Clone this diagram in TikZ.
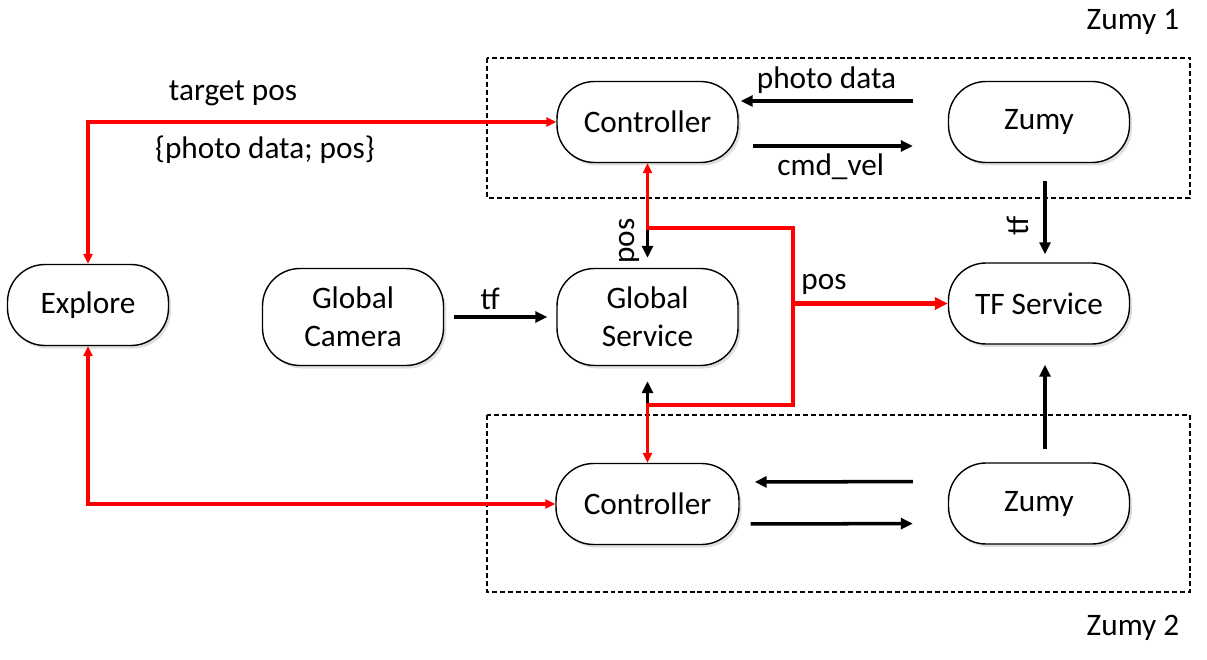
\documentclass[tikz,border=0pt]{standalone}
\usepackage{fontspec}
\setmainfont{Carlito}
\usetikzlibrary{positioning, arrows.meta, shadows}
\tikzstyle{block} = [rectangle, rounded corners=0.75cm, minimum width=3.62cm, minimum height=1.62cm, text centered, align=center, draw=black, line width=0.8pt, fill=white, drop shadow={shadow xshift=0.05cm, shadow yshift=-0.06cm, opacity=0.25}]
\tikzstyle{tall} = [minimum height=1.94cm]
\tikzstyle{zone} = [draw=black, line width=0.6pt, dash pattern=on 2.8pt off 1.7pt]
\tikzstyle{arrow} = [line width=2pt, -{Triangle[length=0.24cm, width=0.22cm]}]
\tikzstyle{redarrow} = [red, line width=2pt, {Triangle[length=0.2cm, width=0.18cm]}-{Triangle[length=0.2cm, width=0.18cm]}]
\tikzstyle{posarrow} = [red, line width=3pt, -{Triangle[length=0.26cm, width=0.24cm]}]

\begin{document}
\begin{tikzpicture}[on grid, font=\fontsize{17.8}{21.6}\selectfont]
    \useasboundingbox (0,0) rectangle (24.14,-13.2);

    % zumy groups
    \draw [zone] (9.74,-1.16) rectangle (23.8,-3.96);
    \draw [zone] (9.74,-8.3) rectangle (23.8,-11.84);
    \node (zumy1lbl) at (22.66,-0.44) {Zumy 1};
    \node (zumy2lbl) at (22.66,-12.56) {Zumy 2};

    \node (ctrl1) [block] at (12.95,-2.44) {Controller};
    \node (zumy1) [block, right=7.83cm of ctrl1] {Zumy};
    \node (gsvc) [block, tall, below=3.9cm of ctrl1] {Global\\Service};
    \node (cam) [block, tall, left=5.89cm of gsvc] {Global\\Camera};
    \node (tf) [block, below=3.63cm of zumy1] {TF Service};
    \node (explore) [block, minimum width=3.22cm] at (1.76,-6.1) {Explore};
    \node (ctrl2) [block, minimum width=3.66cm, below=7.64cm of ctrl1] {Controller};
    \node (zumy2) [block, below=7.63cm of zumy1] {Zumy};

    \coordinate (rtop) at (15.86,-4.56);
    \coordinate (rbot) at (15.86,-8.1);

    % black links
    \draw [arrow, shorten <=0.7cm, shorten >=0.04cm] ([yshift=0.42cm]zumy1.west) -- node[pos=0.58, above] {photo data} ([yshift=0.42cm]ctrl1.east);
    \draw [arrow, shorten <=0.28cm, shorten >=0.7cm] ([yshift=-0.48cm]ctrl1.east) -- node[pos=0.44, below] {cmd\_vel} ([yshift=-0.48cm]zumy1.west);
    \draw [arrow, shorten <=0.7cm, shorten >=0.3cm] ([yshift=0.44cm]zumy2.west) -- ([yshift=0.44cm]ctrl2.east);
    \draw [arrow, shorten <=0.22cm, shorten >=0.7cm] ([yshift=-0.4cm]ctrl2.east) -- ([yshift=-0.4cm]zumy2.west);
    \draw [arrow, shorten <=0.36cm, shorten >=0.16cm] ([xshift=0.12cm]zumy1.south) -- node[pos=0.63, rotate=90, anchor=south, inner sep=0.3cm] {tf} ([xshift=0.12cm]tf.north);
    \draw [arrow, shorten <=0.26cm, shorten >=0.4cm] ([xshift=0.12cm]zumy2.north) -- ([xshift=0.12cm]tf.south);
    \draw [arrow, shorten <=0.2cm, shorten >=0.18cm] (cam) -- node[pos=0.41, above] {tf} (gsvc);
    \draw [arrow, shorten >=0.2cm] (ctrl1.south |- rtop) -- node[pos=0.33, rotate=90, anchor=south] {pos} (gsvc.north);
    \draw [arrow, shorten <=0.16cm, shorten >=0.3cm] (ctrl2.north) -- (gsvc.south -| ctrl2.north);

    % red links
    \draw [redarrow] (ctrl1.west) -| (explore.north);
    \draw [redarrow] (explore.south) |- (ctrl2.west);
    \draw [redarrow] (ctrl1.south) |- (rtop) -- (rbot) -| (ctrl2.north);
    \draw [posarrow] (rtop |- tf.west) -- node[pos=0.2, above, text=black] {pos} (tf.west);
    \node (tgtlbl) at (4.66,-1.86) {target pos};
    \node (datalbl) at (5.3,-3.0) {\{photo data; pos\}};

\end{tikzpicture}
\end{document}
